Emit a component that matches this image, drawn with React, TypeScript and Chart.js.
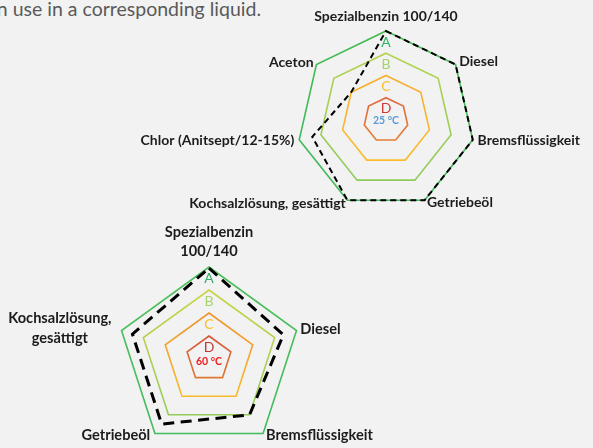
import React, { useEffect, useRef } from 'react';
import { Chart, registerables } from 'chart.js';

Chart.register(...registerables);

// ---------- data ----------
const topCategories = [
  'Spezialbenzin 100/140',
  'Diesel',
  'Bremsflüssigkeit',
  'Getriebeöl',
  'Kochsalzlösung, gesättigt',
  'Chlor (Anitsept/12-15%)',
  'Aceton',
];
const topValues = [4, 4, 4, 4, 4, 3.4, 2];
const topTemperature = '25 °C';

const bottomCategories = [
  ['Spezialbenzin', '100/140'],
  'Diesel',
  'Bremsflüssigkeit',
  'Getriebeöl',
  ['Kochsalzlösung,', 'gesättigt'],
];
const bottomValues = [3.95, 3.4, 3.0, 3.5, 3.5];
const bottomTemperature = '60 °C';

const ringValues = [4, 3, 2, 1];
const classLetters = ['A', 'B', 'C', 'D'];
const classLetterValues = [3.5, 2.5, 1.5, 0.5];
const scaleTickValues = [0, 0.5, 1, 1.5, 2, 2.5, 3, 3.5, 4];
const scaleMin = 0;
const scaleMax = 4;

const caption = 'n use in a corresponding liquid.';

// ---------- styles ----------
const FONT = 'Lato, "Open Sans", sans-serif';
const TICK_SIZE = 14;
const CANVAS_W = 593;
const CANVAS_H = 520;

const topRingColors: [string, string][] = [
  ['#45bb52', '#3fb85a'],
  ['#b4d24e', '#8ccb5c'],
  ['#f6ad2c', '#fbbd2a'],
  ['#e0673a', '#e47f34'],
];
const bottomRingColors: [string, string][] = [
  ['#4cbf58', '#3fbb5e'],
  ['#c9d345', '#8fcb58'],
  ['#ef922e', '#f8c02c'],
  ['#d4563a', '#e07c30'],
];
const topLetterColors = ['#2fb468', '#a6d36c', '#fac12e', '#d03a35'];
const bottomLetterColors = ['#2eb062', '#a8d46a', '#f8c12c', '#c83430'];

const topLayout = {
  cx: 386, cy: 120, R: 89,
  labelSize: 14, lineHeight: 16.8, topGap: 9.5,
  pads: [5, 4.7, 4.9, 5.5, 3.7, 5, 3.6],
  dys: [0, 0, 0, -3, 0, 0, 0],
  dash: [6, 4], width: 2,
  tempColor: '#5b9bd5', tempDy: 1,
};
const bottomLayout = {
  cx: 209, cy: 359, R: 92,
  labelSize: 14.6, lineHeight: 19.5, topGap: 10.6,
  pads: [5, 4, 5, 8, 10.5],
  dys: [0, 0, -2, -4.5, 1],
  dash: [11, 6.5], width: 3,
  tempColor: '#f01c1c', tempDy: 3,
};

const axisLabelPlugin = {
  id: 'axisLabels',
  afterDraw(chart: any, _args: any, o: any) {
    const s = chart.scales.r;
    const ctx = chart.ctx;
    const labels = chart.data.labels as (string | string[])[];
    const n = labels.length;
    ctx.save();
    ctx.font = `bold ${o.size}px ${FONT}`;
    ctx.fillStyle = o.color;
    ctx.textBaseline = 'middle';
    ctx.textAlign = 'center';
    labels.forEach((lab, i) => {
      const lines = Array.isArray(lab) ? lab : [lab];
      const p = s.getPointPosition(i, s.drawingArea + o.pads[i]);
      const deg = (360 * i) / n;
      const blockW = Math.max(...lines.map((l) => ctx.measureText(l).width));
      let xc = p.x;
      if (deg > 1 && deg < 179) xc = p.x + blockW / 2;
      else if (deg > 181) xc = p.x - blockW / 2;
      const lh = o.lineHeight;
      let y0: number;
      if (deg < 1) y0 = p.y - o.topGap - (lines.length - 1) * lh;
      else y0 = p.y - (lh * lines.length) / 2 + lh / 2 + o.dys[i];
      lines.forEach((l, k) => ctx.fillText(l, xc, y0 + k * lh));
    });
    ctx.restore();
  },
};

const centerTextPlugin = {
  id: 'centerText',
  afterDraw(chart: any, _args: any, o: any) {
    const s = chart.scales.r;
    const ctx = chart.ctx;
    ctx.save();
    ctx.font = `bold 10.5px ${FONT}`;
    ctx.fillStyle = o.color;
    ctx.textAlign = 'center';
    ctx.textBaseline = 'middle';
    ctx.fillText(o.text, s.xCenter, s.yCenter + o.dy);
    ctx.restore();
  },
};

function makeConfig(
  labels: (string | string[])[],
  values: number[],
  L: any,
  ringColors: [string, string][],
  letterColors: string[],
  temp: string
): any {
  const half = L.R + TICK_SIZE / 2;
  const letterIndex = (v: number) =>
    classLetterValues.findIndex((x) => Math.abs(x - v) < 1e-6);
  return {
    type: 'radar',
    data: {
      labels,
      datasets: [
        {
          data: values,
          borderColor: '#000000',
          borderWidth: L.width,
          borderDash: L.dash,
          borderCapStyle: 'butt',
          borderJoinStyle: 'miter',
          fill: false,
          pointRadius: 0,
          pointHoverRadius: 0,
          tension: 0,
        },
      ],
    },
    options: {
      animation: false,
      responsive: false,
      events: [],
      layout: {
        padding: {
          left: L.cx - half,
          right: CANVAS_W - (L.cx + half),
          top: L.cy - half,
          bottom: CANVAS_H - (L.cy + half),
        },
      },
      plugins: {
        legend: { display: false },
        tooltip: { enabled: false },
        axisLabels: {
          size: L.labelSize,
          lineHeight: L.lineHeight,
          topGap: L.topGap,
          pads: L.pads,
          dys: L.dys,
          color: '#1c1c1c',
        },
        centerText: { text: temp, color: L.tempColor, dy: L.tempDy },
      },
      scales: {
        r: {
          min: scaleMin,
          max: scaleMax,
          afterBuildTicks: (scale: any) => {
            scale.ticks = scaleTickValues.map((value) => ({ value }));
          },
          angleLines: { display: false },
          pointLabels: { display: false },
          grid: {
            circular: false,
            color: (c: any) => {
              const k = c.tick ? ringValues.indexOf(c.tick.value) : -1;
              if (k < 0) return 'rgba(0,0,0,0)';
              const [c1, c2] = ringColors[k];
              const s = c.chart && c.chart.scales && c.chart.scales.r;
              if (!s || !s.drawingArea) return c1;
              const r = s.getDistanceFromCenterForValue(c.tick.value);
              const g = c.chart.ctx.createLinearGradient(0, s.yCenter - r, 0, s.yCenter + r);
              g.addColorStop(0, c1);
              g.addColorStop(1, c2);
              return g;
            },
            lineWidth: (c: any) =>
              c.tick && ringValues.indexOf(c.tick.value) >= 0 ? 1.6 : 0,
          },
          ticks: {
            display: true,
            autoSkip: false,
            showLabelBackdrop: false,
            backdropPadding: 0,
            font: { family: FONT, size: TICK_SIZE, weight: 'normal' },
            color: (c: any) => {
              const k = letterIndex(c.tick ? c.tick.value : -1);
              return k >= 0 ? letterColors[k] : 'rgba(0,0,0,0)';
            },
            callback: (v: number) => {
              const k = letterIndex(v);
              return k >= 0 ? classLetters[k] : '';
            },
          },
        },
      },
    },
    plugins: [axisLabelPlugin, centerTextPlugin],
  };
}

export default function App() {
  const topRef = useRef<HTMLCanvasElement>(null);
  const bottomRef = useRef<HTMLCanvasElement>(null);

  useEffect(() => {
    const c1 = new Chart(
      topRef.current as HTMLCanvasElement,
      makeConfig(topCategories, topValues, topLayout, topRingColors, topLetterColors, topTemperature)
    );
    const c2 = new Chart(
      bottomRef.current as HTMLCanvasElement,
      makeConfig(bottomCategories, bottomValues, bottomLayout, bottomRingColors, bottomLetterColors, bottomTemperature)
    );
    return () => {
      c1.destroy();
      c2.destroy();
    };
  }, []);

  return (
    <div
      style={{
        position: 'absolute',
        left: 0,
        top: 0,
        width: 593,
        height: 448,
        overflow: 'hidden',
        background: '#f2f2f2',
      }}
    >
      <div
        style={{
          position: 'absolute',
          right: 593 - 261,
          top: -0.6,
          whiteSpace: 'nowrap',
          fontFamily: FONT,
          fontSize: 19.5,
          lineHeight: '19.5px',
          color: '#595959',
        }}
      >
        {caption}
      </div>
      <canvas
        ref={bottomRef}
        width={CANVAS_W}
        height={CANVAS_H}
        style={{ position: 'absolute', left: 0, top: 0 }}
      />
      <canvas
        ref={topRef}
        width={CANVAS_W}
        height={CANVAS_H}
        style={{ position: 'absolute', left: 0, top: 0 }}
      />
    </div>
  );
}
